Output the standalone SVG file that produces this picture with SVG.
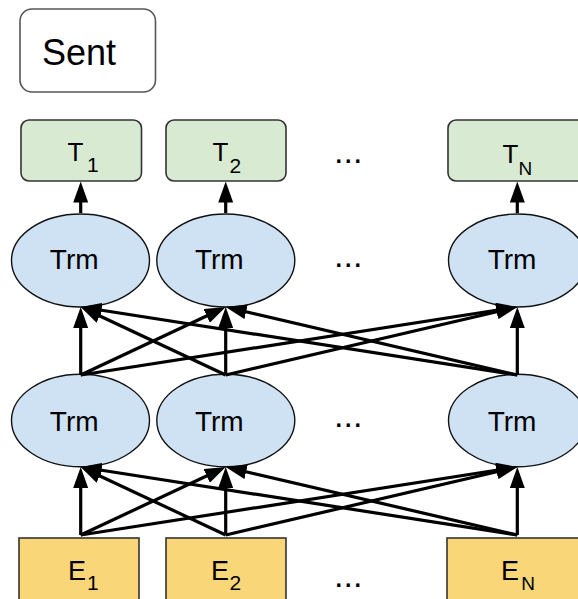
<svg xmlns="http://www.w3.org/2000/svg" width="578" height="599" viewBox="0 0 578 599">
  <style>
    .lbl { font-family: "Liberation Sans", Arial, sans-serif; fill: #000; }
    .sent { fill: #fff; stroke: #555; stroke-width: 1.6; }
    .tok { fill: #d9ead3; stroke: #333; stroke-width: 1.6; }
    .trm { fill: #cfe2f3; stroke: #111; stroke-width: 1.4; }
    .emb { fill: #f9d778; stroke: #333; stroke-width: 1.6; }
    .edge { stroke: #000; stroke-width: 3.2; fill: none; marker-end: url(#head); }
    .dots { font-family: "Liberation Sans", Arial, sans-serif; font-size: 34px; fill: #000; }
  </style>
  <defs>
    <marker id="head" markerUnits="userSpaceOnUse" markerWidth="21" markerHeight="15" refX="11" refY="7.5" orient="auto">
      <path d="M0,0 L21,7.5 L0,15 z" fill="#000"/>
    </marker>
  </defs>

  <rect width="578" height="599" fill="#fff"/>

  <!-- sentence label -->
  <g id="sent">
    <rect class="sent" x="20" y="9" width="135.5" height="83" rx="12"/>
    <text class="lbl" x="42" y="64.5" font-size="36">Sent</text>
  </g>

  <!-- output tokens -->
  <g id="t1">
    <rect class="tok" x="21" y="120" width="120.5" height="61" rx="8"/>
    <text class="lbl" font-size="26"><tspan x="67.5" y="161">T</tspan><tspan x="87" y="172.3" font-size="21">1</tspan></text>
  </g>
  <g id="t2">
    <rect class="tok" x="166" y="120" width="120" height="61" rx="8"/>
    <text class="lbl" font-size="26"><tspan x="212.5" y="161">T</tspan><tspan x="229.5" y="172.7" font-size="21">2</tspan></text>
  </g>
  <g id="tn">
    <rect class="tok" x="448" y="120" width="140" height="61" rx="8"/>
    <text class="lbl" font-size="26"><tspan x="502.5" y="163.3">T</tspan><tspan x="518.6" y="175" font-size="19">N</tspan></text>
  </g>

  <!-- upper transformer layer -->
  <g id="trm-u1">
    <ellipse class="trm" cx="80.5" cy="260.5" rx="69" ry="46.5"/>
    <text class="lbl" x="74.2" y="269.3" font-size="28" text-anchor="middle">Trm</text>
  </g>
  <g id="trm-u2">
    <ellipse class="trm" cx="225.8" cy="260.5" rx="69" ry="46.5"/>
    <text class="lbl" x="219.3" y="269.3" font-size="28" text-anchor="middle">Trm</text>
  </g>
  <g id="trm-un">
    <ellipse class="trm" cx="517.5" cy="260.5" rx="69" ry="46.5"/>
    <text class="lbl" x="512" y="269.3" font-size="28" text-anchor="middle">Trm</text>
  </g>

  <!-- lower transformer layer -->
  <g id="trm-l1">
    <ellipse class="trm" cx="80.5" cy="420.5" rx="69" ry="46.3"/>
    <text class="lbl" x="74.2" y="430.7" font-size="28" text-anchor="middle">Trm</text>
  </g>
  <g id="trm-l2">
    <ellipse class="trm" cx="225.8" cy="420.5" rx="69" ry="46.3"/>
    <text class="lbl" x="219.3" y="430.7" font-size="28" text-anchor="middle">Trm</text>
  </g>
  <g id="trm-ln">
    <ellipse class="trm" cx="517.5" cy="420.5" rx="69" ry="46.3"/>
    <text class="lbl" x="512" y="430.7" font-size="28" text-anchor="middle">Trm</text>
  </g>

  <!-- input embeddings -->
  <g id="e1">
    <rect class="emb" x="19" y="538" width="120" height="70"/>
    <text class="lbl" font-size="27"><tspan x="68" y="580">E</tspan><tspan x="87" y="590" font-size="21">1</tspan></text>
  </g>
  <g id="e2">
    <rect class="emb" x="166" y="538" width="120" height="70"/>
    <text class="lbl" font-size="27"><tspan x="211" y="580">E</tspan><tspan x="229.5" y="590" font-size="21">2</tspan></text>
  </g>
  <g id="en">
    <rect class="emb" x="447" y="538" width="140" height="70"/>
    <text class="lbl" font-size="27"><tspan x="501" y="580">E</tspan><tspan x="521.3" y="590" font-size="19">N</tspan></text>
  </g>

  <!-- ellipses between columns -->
  <g id="gap">
    <text class="dots" x="334" y="163">...</text>
    <text class="dots" x="334" y="267">...</text>
    <text class="dots" x="334" y="427">...</text>
    <text class="dots" x="334" y="587">...</text>
  </g>

  <!-- connectors -->
  <g id="connectors">
    <!-- upper layer to outputs -->
    <line class="edge" x1="80.7" y1="213" x2="80.7" y2="191.5"/>
    <line class="edge" x1="225.7" y1="213" x2="225.7" y2="191.5"/>
    <line class="edge" x1="517.3" y1="213" x2="517.3" y2="191.5"/>

    <!-- lower layer to upper layer -->
    <line class="edge" x1="80.7" y1="375" x2="80.7" y2="317"/>
    <line class="edge" x1="80.7" y1="375" x2="216.65" y2="311.25"/>
    <line class="edge" x1="80.7" y1="375" x2="507.42" y2="308.54"/>
    <line class="edge" x1="225.7" y1="375" x2="225.7" y2="317"/>
    <line class="edge" x1="225.7" y1="375" x2="89.75" y2="311.25"/>
    <line class="edge" x1="225.7" y1="375" x2="507.56" y2="309.27"/>
    <line class="edge" x1="517.3" y1="375" x2="517.3" y2="317"/>
    <line class="edge" x1="517.3" y1="375" x2="90.58" y2="308.54"/>
    <line class="edge" x1="517.3" y1="375" x2="235.44" y2="309.27"/>

    <!-- embeddings to lower layer -->
    <line class="edge" x1="80.7" y1="535" x2="80.7" y2="477"/>
    <line class="edge" x1="80.7" y1="535" x2="216.65" y2="471.25"/>
    <line class="edge" x1="80.7" y1="535" x2="507.42" y2="468.54"/>
    <line class="edge" x1="225.7" y1="535" x2="225.7" y2="477"/>
    <line class="edge" x1="225.7" y1="535" x2="89.75" y2="471.25"/>
    <line class="edge" x1="225.7" y1="535" x2="507.56" y2="469.27"/>
    <line class="edge" x1="517.3" y1="535" x2="517.3" y2="477"/>
    <line class="edge" x1="517.3" y1="535" x2="90.58" y2="468.54"/>
    <line class="edge" x1="517.3" y1="535" x2="235.44" y2="469.27"/>
  </g>
</svg>
